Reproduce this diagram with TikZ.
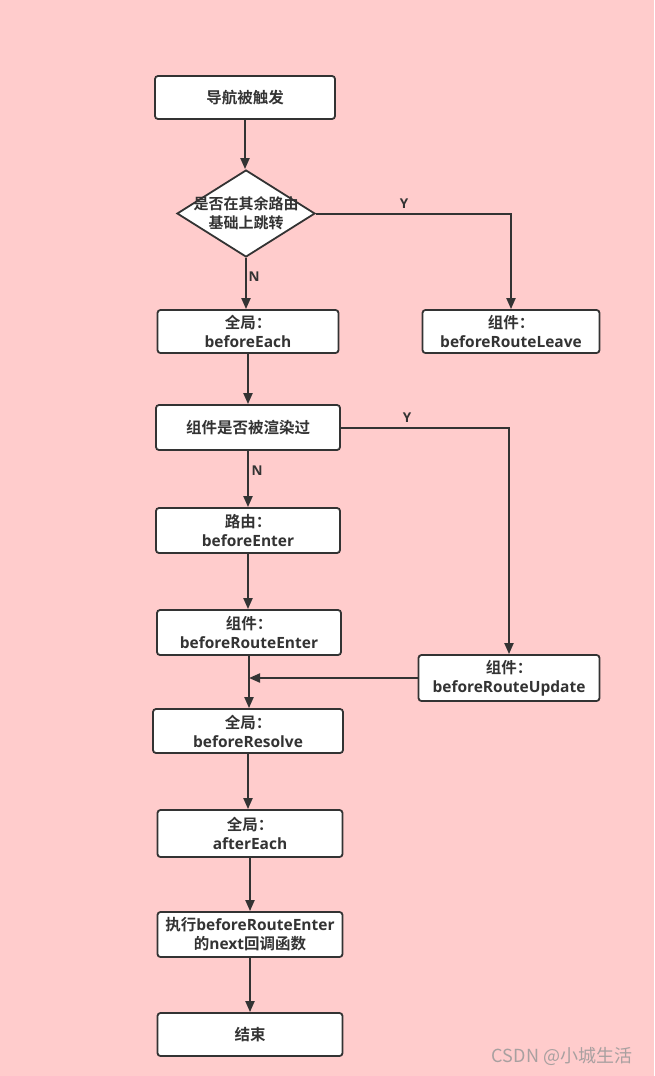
\documentclass[tikz,border=0pt]{standalone}
\usepackage{fontspec}
\setmainfont{Open Sans}
\newfontfamily\cjk{Noto Sans CJK SC}[UprightFont={* Bold},BoldFont={* Bold}]
\newfontfamily\cjkreg{Noto Sans CJK SC}
\usetikzlibrary{arrows.meta,shapes.geometric}
\definecolor{bgpink}{HTML}{FFCCCC}
\definecolor{ink}{HTML}{333333}
\definecolor{wm}{HTML}{A8A0A0}
\tikzset{
  box/.style={draw=ink, fill=white, line width=1.8pt, rounded corners=3pt,
    align=center, inner sep=0pt, font=\fontsize{15.5}{19}\selectfont\bfseries, text=ink},
  arr/.style={draw=ink, line width=2pt, -{Triangle[length=11pt,width=9pt]}},
  lbl/.style={font=\fontsize{13.5}{15}\selectfont\bfseries, text=ink, inner sep=0pt},
}
\begin{document}
\begin{tikzpicture}[x=1pt,y=-1pt]
\fill[bgpink] (0,0) rectangle (654,1076);
\useasboundingbox (0,0) rectangle (654,1076);

\node[box, minimum width=180, minimum height=43] (start) at (245,97.5) {{\cjk 导航被触发}};
\node[diamond, draw=ink, fill=white, line width=1.8pt, minimum width=138, minimum height=87, inner sep=0pt,
  label={[font=\fontsize{15}{19}\selectfont\cjk, text=ink, align=center]center:是否在其余路由\\基础上跳转}] (jump) at (246,213.5) {};
\node[box, minimum width=181, minimum height=43] (each) at (248,331.5) {{\cjk 全局：}\\beforeEach};
\node[box, minimum width=177, minimum height=43] (leave) at (511,331.5) {{\cjk 组件：}\\beforeRouteLeave};
\node[box, minimum width=184, minimum height=45] (rendered) at (248,427.5) {{\cjk 组件是否被渲染过}};
\node[box, minimum width=184, minimum height=45] (enter) at (248,530.5) {{\cjk 路由：}\\beforeEnter};
\node[box, minimum width=184, minimum height=45] (bre) at (249,632.5) {{\cjk 组件：}\\beforeRouteEnter};
\node[box, minimum width=181, minimum height=46] (update) at (509,678) {{\cjk 组件：}\\beforeRouteUpdate};
\node[box, minimum width=190, minimum height=44] (resolve) at (248,731) {{\cjk 全局：}\\beforeResolve};
\node[box, minimum width=185, minimum height=47] (after) at (250,833.5) {{\cjk 全局：}\\afterEach};
\node[box, minimum width=185, minimum height=45] (next) at (250,934.5) {{\cjk 执行}beforeRouteEnter\\{\cjk 的}next{\cjk 回调函数}};
\node[box, minimum width=185, minimum height=43] (end) at (250,1034.5) {{\cjk 结束}};

\draw[arr] (start.south) -- (start.south |- jump.north);
\draw[arr] (jump.south) -- (jump.south |- each.north);
\draw[arr] (jump.east) -| (leave.north);
\draw[arr] (each.south) -- (each.south |- rendered.north);
\draw[arr] (rendered.south) -- (rendered.south |- enter.north);
\draw[arr] (rendered.east) -| (update.north);
\draw[arr] (enter.south) -- (enter.south |- bre.north);
\draw[arr] (bre.south) -- (bre.south |- resolve.north);
\draw[arr] (update.west) -- (bre.south |- update.west);
\draw[arr] (resolve.south) -- (resolve.south |- after.north);
\draw[arr] (after.south) -- (after.south |- next.north);
\draw[arr] (next.south) -- (next.south |- end.north);

\node[lbl] (ly1) at (404,204) {Y};
\node[lbl] (ln1) at (254,277) {N};
\node[lbl] (ly2) at (407,418) {Y};
\node[lbl] (ln2) at (257,471) {N};

\node[font=\fontsize{18}{20}\selectfont\cjkreg, text=wm, inner sep=0pt] (wmark) at (562,1056) {CSDN @小城生活};
\end{tikzpicture}
\end{document}
